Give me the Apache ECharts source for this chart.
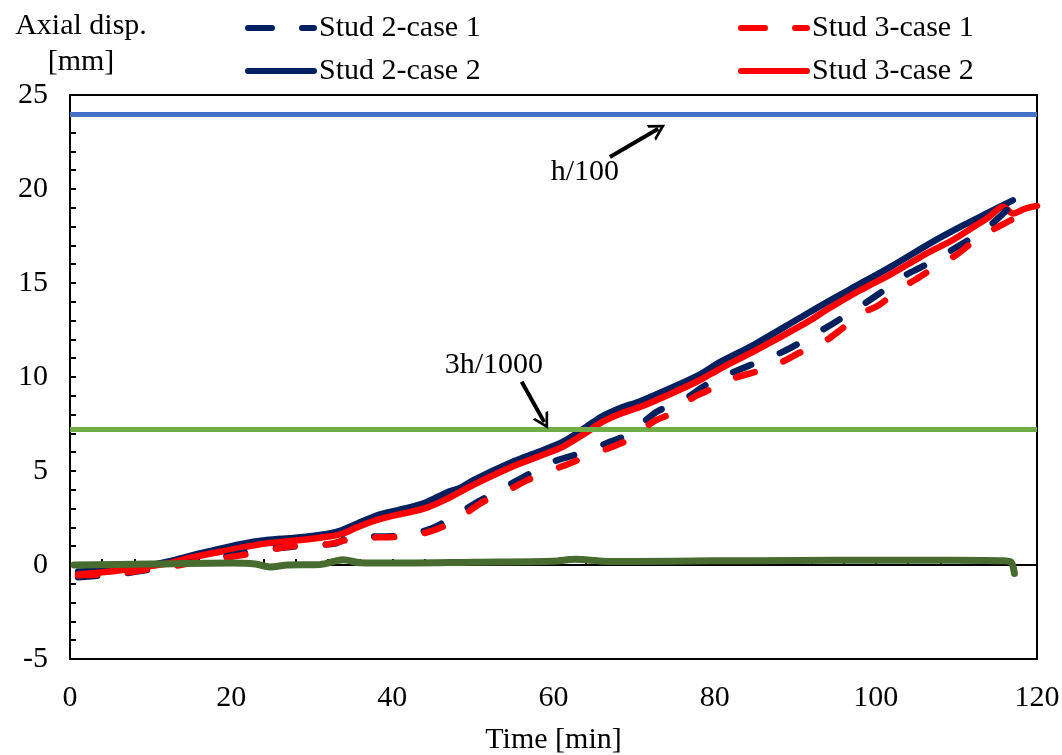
<!DOCTYPE html>
<html>
<head>
<meta charset="utf-8">
<script src="https://cdn.jsdelivr.net/npm/echarts@6/dist/echarts.min.js"></script>
<style>html,body{margin:0;padding:0;background:#fff}#c{width:1062px;height:755px}</style>
</head>
<body>
<div id="c"></div>
<script>
// ---- data (time [min], axial displacement [mm]) ----
const xTicks = [0, 20, 40, 60, 80, 100, 120];
const yTicks = [-5, 0, 5, 10, 15, 20, 25];
const seriesNames = ['Stud 2-case 1', 'Stud 2-case 2', 'Stud 3-case 1', 'Stud 3-case 2'];

const stud2case1 = [[1,-0.65],[4,-0.55],[7,-0.43],[11,-0.17],[13,0.0],[16,0.2],[18,0.35],[21,0.6],[23.6,0.8],[27,0.95],[30,1.05],[33,1.15],[34.5,1.45],[36,1.5],[41,1.55],[45,1.97],[48,2.7],[51,3.45],[54,4.15],[57,4.85],[60,5.5],[63.7,6.0],[67,6.55],[69.5,7.0],[72.8,8.15],[76,8.75],[79,9.6],[82,10.2],[85.4,10.8],[88.5,11.35],[91.6,12.07],[94.7,12.85],[97.7,13.65],[100.3,14.4],[103.2,15.3],[106.1,15.95],[110,16.9],[114,18.0],[117,19.2]];
const stud2case2 = [[1,-0.35],[5,-0.25],[10,0.0],[12.4,0.2],[15,0.5],[18,0.8],[21,1.1],[24.4,1.33],[28,1.45],[31.9,1.65],[33.7,1.85],[35.6,2.2],[38.5,2.7],[42,3.05],[44.3,3.35],[46.7,3.85],[48.4,4.1],[50,4.5],[55,5.5],[58,6.0],[61.2,6.56],[64.1,7.36],[66,7.9],[68.3,8.35],[70.7,8.7],[74.5,9.4],[78,10.1],[80.7,10.8],[84.8,11.7],[90.6,13.15],[94,14.0],[98,14.95],[102,15.9],[107.1,17.2],[111,18.1],[114,18.75],[117,19.4]];
const stud3case1 = [[1,-0.55],[4,-0.5],[7,-0.4],[10,-0.2],[13,-0.05],[16,0.2],[18,0.3],[21,0.5],[23.6,0.7],[27,0.97],[30,1.06],[32,1.1],[34.5,1.35],[36,1.45],[41,1.5],[44,1.7],[46.3,2.04],[48.8,2.66],[51.3,3.37],[53.7,3.83],[56.7,4.5],[59.2,4.95],[62,5.4],[64.5,5.85],[67.4,6.3],[69.9,6.8],[72.3,7.6],[74.8,8.1],[77.3,8.9],[79.8,9.4],[82.5,9.95],[85.3,10.3],[87.9,10.7],[90.6,11.3],[93.3,11.8],[95.6,12.5],[98,13.35],[100.3,13.8],[103,14.7],[105,15.2],[107.7,15.95],[110,16.5],[112.7,17.4],[114.8,17.9],[117,18.4],[119,18.9]];
const stud3case2 = [[1,-0.5],[5,-0.35],[10,-0.05],[12.4,0.1],[15,0.4],[18,0.65],[21,0.9],[24.4,1.15],[28,1.3],[31.9,1.5],[33.7,1.65],[35.6,2.0],[38.5,2.45],[42,2.8],[44.3,3.05],[46.7,3.5],[50,4.25],[55,5.25],[58,5.75],[61.2,6.3],[64.1,7.05],[66,7.6],[68.3,8.05],[70.7,8.4],[74.5,9.1],[78,9.8],[80.7,10.45],[84.8,11.35],[91.8,13.0],[94,13.6],[98,14.6],[102,15.5],[106,16.5],[109.6,17.3],[112,17.95],[114,18.5],[115.8,19.05],[117,18.7],[118.5,18.95],[120,19.1]];
const baseCurve = [[0.5,0],[10,0.05],[20,0.1],[23,0.05],[24.8,-0.1],[27,0.0],[31,0.02],[33.9,0.28],[36,0.12],[40,0.1],[50,0.15],[60,0.2],[62.7,0.3],[66,0.2],[70,0.18],[80,0.22],[90,0.24],[100,0.25],[110,0.25],[116,0.22],[116.8,0.15],[117.2,-0.45]];

const limitValues = [24, 7.2];          // h/100, 3h/1000
const limitLabels = ['h/100', '3h/1000'];
const labelAt = [[63.9, 20.9], [52.6, 10.64]];
const arrowFrom = [[67.0, 21.7], [56.05, 9.75]];
const arrowTo = [[73.0, 23.2], [58.85, 7.6]];

// ---- styles ----
const FONT = 'Liberation Serif';
const FS = 30;
const NAVY = '#002060', RED = '#FF0000';
const LW = 6.5;
const chevron = 'path://M0,16 L9,0 L18,16 L15,16 L9,5.5 L3,16 Z';
const iconSolid = 'path://M3,0 L69,0 A3,3 0 0 1 69,6 L3,6 A3,3 0 0 1 3,0 Z';
const iconDashed = 'path://M3,0 L27,0 A3,3 0 0 1 27,6 L3,6 A3,3 0 0 1 3,0 Z M57,0 L69,0 A3,3 0 0 1 69,6 L57,6 A3,3 0 0 1 57,0 Z';

function line(name, data, color, dashed, z) {
  return {
    name, type: 'line', data, showSymbol: false, symbol: 'none', smooth: 0.3,
    z,
    lineStyle: { color, width: LW, type: dashed ? [19, 31] : 'solid', cap: 'round', join: 'round' },
    itemStyle: { color },
    emphasis: { disabled: true }, silent: true
  };
}
function legendBlock(names, left) {
  return {
    data: names.map(n => ({ name: n, icon: n.endsWith('1') ? iconDashed : iconSolid })),
    orient: 'vertical', left, top: 13, padding: 0, itemWidth: 72, itemHeight: 6, itemGap: 13,
    itemStyle: { borderWidth: 0 }, symbolKeepAspect: false,
    textStyle: { fontFamily: FONT, fontSize: FS, color: '#000', lineHeight: 30, padding: [0, 0, 0, -3] },
    selectedMode: false
  };
}

const chart = echarts.init(document.getElementById('c'), null, { renderer: 'canvas' });
const option = {
  animation: false,
  backgroundColor: '#fff',
  textStyle: { fontFamily: FONT, color: '#000' },
  grid: { left: 70, right: 25, top: 95, bottom: 96, containLabel: false, outerBoundsMode: 'none', show: true, borderColor: '#000', borderWidth: 2, backgroundColor: 'transparent' },
  legend: [legendBlock([seriesNames[0], seriesNames[1]], 245), legendBlock([seriesNames[2], seriesNames[3]], 738)],
  xAxis: [
    { type: 'value', min: xTicks[0], max: xTicks[xTicks.length - 1], interval: 20, position: 'bottom',
      name: 'Time [min]', nameLocation: 'middle', nameGap: 66,
      nameTextStyle: { fontFamily: FONT, fontSize: FS, color: '#000' },
      axisLine: { onZero: false, lineStyle: { color: '#000', width: 2 } },
      axisTick: { show: false }, splitLine: { show: false },
      axisLabel: { fontFamily: FONT, fontSize: FS, color: '#000', margin: 24 } },
    { type: 'value', min: xTicks[0], max: xTicks[xTicks.length - 1], interval: 20, position: 'top',
      axisLine: { onZero: true, onZeroAxisIndex: 0, lineStyle: { color: '#000', width: 2 } },
      axisTick: { show: true, inside: false, length: 6, lineStyle: { color: '#000', width: 2 } },
      minorTick: { show: true, splitNumber: 5, length: 6, lineStyle: { color: '#000', width: 2 } },
      axisLabel: { show: false }, splitLine: { show: false } }
  ],
  yAxis: {
    type: 'value', min: yTicks[0], max: yTicks[yTicks.length - 1], interval: 5,
    name: 'Axial disp.\n[mm]', nameLocation: 'end', nameGap: 11,
    nameTextStyle: { fontFamily: FONT, fontSize: FS, color: '#000', align: 'center', lineHeight: 36, padding: [0, 0, 0, 22] },
    axisLine: { onZero: false, lineStyle: { color: '#000', width: 2 } },
    axisTick: { show: true, inside: true, length: 6, lineStyle: { color: '#000', width: 2 } },
    minorTick: { show: true, splitNumber: 5, length: 6, lineStyle: { color: '#000', width: 2 } },
    splitLine: { show: false },
    axisLabel: { fontFamily: FONT, fontSize: FS, color: '#000', margin: 22 }
  },
  series: [
    {
      name: 'limits', type: 'line', data: [], silent: true, z: 1,
      markLine: {
        silent: true, symbol: 'none', animation: false,
        label: { show: false },
        data: limitValues.map((v, i) => ({ yAxis: v, lineStyle: { color: i === 0 ? '#4472C4' : '#70AD47', width: 5, type: 'solid' } }))
      }
    },
    line(seriesNames[1], stud2case2, NAVY, false, 3),
    line(seriesNames[3], stud3case2, RED, false, 4),
    line(seriesNames[0], stud2case1, NAVY, true, 5),
    line(seriesNames[2], stud3case1, RED, true, 6),
    {
      name: 'base', type: 'line', data: baseCurve, showSymbol: false, symbol: 'none', smooth: 0.3, z: 7, silent: true,
      lineStyle: { color: '#486B30', width: 7, cap: 'round', join: 'round' }
    },
    {
      name: 'notes', type: 'line', data: [], silent: true, z: 8,
      markLine: {
        silent: true, animation: false, symbol: ['none', chevron], symbolSize: [18, 16],
        label: { show: false },
        lineStyle: { color: '#000', width: 4, type: 'solid' },
        itemStyle: { color: '#000' },
        data: arrowFrom.map((f, i) => [{ coord: f }, { coord: arrowTo[i] }])
      },
      markPoint: {
        silent: true, animation: false, symbol: 'circle', symbolSize: 0,
        label: { show: true, position: 'inside', formatter: '{b}', fontFamily: FONT, fontSize: FS, color: '#000' },
        data: labelAt.map((c, i) => ({ name: limitLabels[i], coord: c }))
      }
    }
  ]
};
chart.setOption(option);
</script>
</body>
</html>
